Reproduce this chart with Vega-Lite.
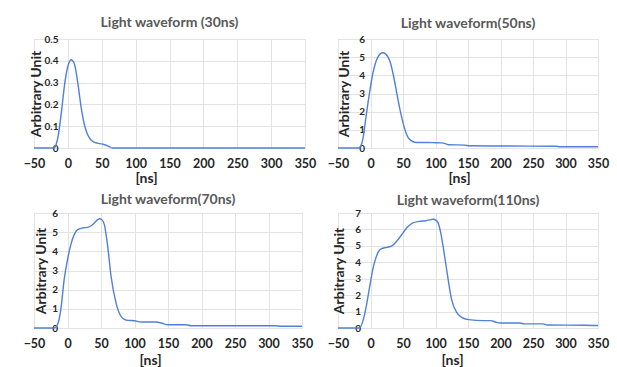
{
  "$schema": "https://vega.github.io/schema/vega-lite/v6.json",
  "background": "white",
  "padding": {"left": 22, "top": 15, "right": 8, "bottom": 4},
  "config": {
    "font": "Lato",
    "view": {"stroke": "#e3e3e3"},
    "axis": {"domain": false, "ticks": false, "gridColor": "#e3e3e3", "labelFont": "Lato", "labelFontWeight": "bold", "labelColor": "#262626", "titleFont": "Lato", "titleFontWeight": "bold", "titleColor": "#262626"},
    "axisX": {"labelFontSize": 12.5, "labelPadding": 9.5, "labelFlush": false, "titleFontSize": 14},
    "axisY": {"labelFontSize": 10, "titleFontSize": 14},
    "title": {"fontSize": 14, "fontWeight": "bold", "color": "#595959", "font": "Lato", "anchor": "middle"},
    "line": {"color": "#5080d8", "strokeWidth": 1.4, "interpolate": "monotone"}
  },
  "datasets": {
    "w30": [
      {"t": -50, "v": 0}, {"t": -20, "v": 0}, {"t": -17, "v": 0.02}, {"t": -14.6, "v": 0.05}, {"t": -9.7, "v": 0.16}, {"t": -4.9, "v": 0.29}, {"t": 0, "v": 0.375}, {"t": 3, "v": 0.4}, {"t": 5, "v": 0.405}, {"t": 7, "v": 0.4}, {"t": 9.7, "v": 0.385}, {"t": 14.6, "v": 0.3}, {"t": 19.4, "v": 0.19}, {"t": 24.2, "v": 0.11}, {"t": 28, "v": 0.07}, {"t": 31.5, "v": 0.048}, {"t": 36, "v": 0.032}, {"t": 41, "v": 0.024}, {"t": 47, "v": 0.02}, {"t": 53, "v": 0.016}, {"t": 60, "v": 0.008}, {"t": 66, "v": 0}, {"t": 350, "v": 0}
    ],
    "w50": [
      {"t": -50, "v": 0}, {"t": -18, "v": 0}, {"t": -15, "v": 0.1}, {"t": -11.7, "v": 0.5}, {"t": -6.7, "v": 1.77}, {"t": -1.5, "v": 3.03}, {"t": 3.6, "v": 4.1}, {"t": 7, "v": 4.6}, {"t": 11.3, "v": 5.0}, {"t": 15, "v": 5.18}, {"t": 19, "v": 5.24}, {"t": 23, "v": 5.18}, {"t": 27, "v": 5.0}, {"t": 31, "v": 4.65}, {"t": 34.6, "v": 4.1}, {"t": 38.5, "v": 3.4}, {"t": 42.3, "v": 2.66}, {"t": 46, "v": 2.0}, {"t": 50, "v": 1.4}, {"t": 54, "v": 0.9}, {"t": 57.7, "v": 0.59}, {"t": 62, "v": 0.42}, {"t": 68, "v": 0.32}, {"t": 75, "v": 0.3}, {"t": 88, "v": 0.3}, {"t": 100, "v": 0.29}, {"t": 109, "v": 0.28}, {"t": 115, "v": 0.24}, {"t": 120, "v": 0.18}, {"t": 145, "v": 0.16}, {"t": 152, "v": 0.12}, {"t": 200, "v": 0.11}, {"t": 285, "v": 0.1}, {"t": 292, "v": 0.07}, {"t": 350, "v": 0.07}
    ],
    "w70": [
      {"t": -50, "v": 0}, {"t": -20, "v": 0}, {"t": -15, "v": 0.17}, {"t": -10, "v": 0.96}, {"t": -5, "v": 2.52}, {"t": 0, "v": 3.57}, {"t": 5, "v": 4.35}, {"t": 10, "v": 4.87}, {"t": 15, "v": 5.13}, {"t": 22.5, "v": 5.22}, {"t": 30, "v": 5.25}, {"t": 37.5, "v": 5.39}, {"t": 45, "v": 5.65}, {"t": 48, "v": 5.7}, {"t": 51, "v": 5.66}, {"t": 55, "v": 5.39}, {"t": 60, "v": 4.26}, {"t": 65, "v": 2.7}, {"t": 72.5, "v": 1.3}, {"t": 80, "v": 0.6}, {"t": 85, "v": 0.45}, {"t": 90, "v": 0.4}, {"t": 100, "v": 0.38}, {"t": 110, "v": 0.31}, {"t": 132, "v": 0.31}, {"t": 140, "v": 0.26}, {"t": 150, "v": 0.17}, {"t": 177, "v": 0.17}, {"t": 185, "v": 0.12}, {"t": 310, "v": 0.12}, {"t": 320, "v": 0.09}, {"t": 350, "v": 0.09}
    ],
    "w110": [
      {"t": -50, "v": 0}, {"t": -17, "v": 0}, {"t": -11.5, "v": 0.45}, {"t": -6.3, "v": 1.36}, {"t": -1, "v": 2.58}, {"t": 4.2, "v": 3.69}, {"t": 9.4, "v": 4.4}, {"t": 16.2, "v": 4.81}, {"t": 25, "v": 4.91}, {"t": 33, "v": 5.0}, {"t": 40.8, "v": 5.31}, {"t": 48.7, "v": 5.72}, {"t": 56.5, "v": 6.13}, {"t": 64.4, "v": 6.39}, {"t": 75, "v": 6.49}, {"t": 85, "v": 6.53}, {"t": 93, "v": 6.6}, {"t": 97, "v": 6.62}, {"t": 101, "v": 6.55}, {"t": 104, "v": 6.4}, {"t": 108, "v": 5.8}, {"t": 111.5, "v": 5.01}, {"t": 117.8, "v": 3.39}, {"t": 124.6, "v": 1.76}, {"t": 132.5, "v": 0.95}, {"t": 140, "v": 0.65}, {"t": 150.8, "v": 0.51}, {"t": 174, "v": 0.45}, {"t": 185, "v": 0.45}, {"t": 193, "v": 0.35}, {"t": 200, "v": 0.3}, {"t": 230, "v": 0.3}, {"t": 237, "v": 0.25}, {"t": 265, "v": 0.25}, {"t": 272, "v": 0.18}, {"t": 330, "v": 0.17}, {"t": 350, "v": 0.15}
    ]
  },
  "concat": [
    {
      "width": 271, "height": 109,
      "title": {"text": "Light waveform (30ns)", "offset": 4},
      "data": {"name": "w30"},
      "mark": "line",
      "encoding": {
        "x": {"field": "t", "type": "quantitative", "scale": {"domain": [-50, 350], "nice": false}, "axis": {"title": "[ns]", "values": [-50, 0, 50, 100, 150, 200, 250, 300, 350], "titleX": 112, "titleY": 23}},
        "y": {"field": "v", "type": "quantitative", "scale": {"domain": [0, 0.5], "nice": false}, "axis": {"title": "Arbitrary Unit", "values": [0, 0.1, 0.2, 0.3, 0.4, 0.5], "format": "~g", "offset": -34, "labelPadding": 10, "titlePadding": 1}}
      }
    },
    {
      "width": 260, "height": 109,
      "title": {"text": "Light waveform(50ns)", "offset": 3},
      "data": {"name": "w50"},
      "mark": "line",
      "encoding": {
        "x": {"field": "t", "type": "quantitative", "scale": {"domain": [-50, 350], "nice": false}, "axis": {"title": "[ns]", "values": [-50, 0, 50, 100, 150, 200, 250, 300, 350], "titleX": 121, "titleY": 23}},
        "y": {"field": "v", "type": "quantitative", "scale": {"domain": [0, 6], "nice": false}, "axis": {"title": "Arbitrary Unit", "values": [0, 1, 2, 3, 4, 5, 6], "format": "~g", "offset": -32.5, "labelPadding": 6, "titlePadding": 7}}
      }
    },
    {
      "width": 268, "height": 115,
      "title": {"text": "Light waveform(70ns)", "offset": 1},
      "data": {"name": "w70"},
      "mark": "line",
      "encoding": {
        "x": {"field": "t", "type": "quantitative", "scale": {"domain": [-50, 350], "nice": false}, "axis": {"title": "[ns]", "values": [-50, 0, 50, 100, 150, 200, 250, 300, 350], "titleX": 116, "titleY": 25}},
        "y": {"field": "v", "type": "quantitative", "scale": {"domain": [0, 6], "nice": false}, "axis": {"title": "Arbitrary Unit", "values": [0, 1, 2, 3, 4, 5, 6], "format": "~g", "offset": -33.5, "labelPadding": 10, "titlePadding": 3}}
      }
    },
    {
      "width": 260, "height": 115,
      "title": {"text": "Light waveform(110ns)", "offset": 0},
      "data": {"name": "w110"},
      "mark": "line",
      "encoding": {
        "x": {"field": "t", "type": "quantitative", "scale": {"domain": [-50, 350], "nice": false}, "axis": {"title": "[ns]", "values": [-50, 0, 50, 100, 150, 200, 250, 300, 350], "titleX": 114, "titleY": 25}},
        "y": {"field": "v", "type": "quantitative", "scale": {"domain": [0, 7], "nice": false}, "axis": {"title": "Arbitrary Unit", "values": [0, 1, 2, 3, 4, 5, 6, 7], "format": "~g", "offset": -32.5, "labelPadding": 10, "titlePadding": 8}}
      }
    }
  ],
  "columns": 2,
  "spacing": {"row": 65, "column": 33},
  "bounds": "flush"
}
